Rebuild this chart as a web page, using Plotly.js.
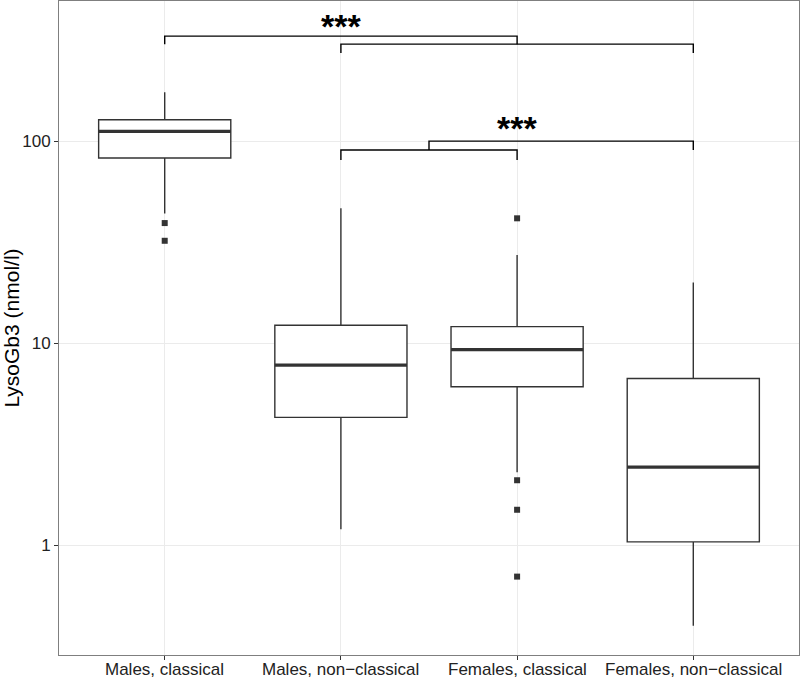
<!DOCTYPE html>
<html>
<head>
<meta charset="utf-8">
<script src="https://cdn.plot.ly/plotly-3.0.1.min.js"></script>
<style>
  html, body { margin: 0; padding: 0; background: #fff; }
  #chart { width: 800px; height: 680px; }
</style>
</head>
<body>
<div id="chart"></div>
<script>
// groups on the x axis
var groups = ["Males, classical", "Males, non\u2212classical", "Females, classical", "Females, non\u2212classical"];
var groupPos = [0, 1, 2, 3];

// box statistics, LysoGb3 in nmol/l
var lowerWhisker = [44, 1.2, 2.3, 0.4];
var q1 = [82.7, 4.3, 6.1, 1.04];
var median = [112, 7.8, 9.3, 2.44];
var q3 = [128, 12.3, 12.1, 6.7];
var upperWhisker = [175, 46.6, 27.4, 20.0];

// outlying points
var outlierGroup = [0, 0, 2, 2, 2, 2];
var outlierValue = [39.4, 32.2, 41.6, 2.1, 1.5, 0.7];

// significance brackets: from / to (group position), bar level, end tips level
var bracketFrom = [1, 0, 1, 1.5];
var bracketTo = [3, 2, 2, 3];
var bracketTop = [303, 332, 90.6, 100.3];
var bracketEnd = [274, 303, 80.8, 90.6];

// significance labels
var starLabel = ["***", "***"];
var starPos = [1, 2];
var starValue = [372, 116];

var boxW = 0.75;
var ink = "#333333";
var fontFam = "Liberation Sans, Arial, sans-serif";

var traces = [];

traces.push({
    type: "box",
    x: groupPos,
    q1: q1,
    median: median,
    q3: q3,
    lowerfence: lowerWhisker,
    upperfence: upperWhisker,
    width: boxW,
    whiskerwidth: 0,
    boxpoints: false,
    fillcolor: "#ffffff",
    line: {color: ink, width: 1.4},
    hoverinfo: "skip",
    showlegend: false
});

// thicker median bar, like ggplot
var mx = [], my = [];
for (var i = 0; i < groupPos.length; i++) {
    mx.push(groupPos[i] - boxW / 2, groupPos[i] + boxW / 2, null);
    my.push(median[i], median[i], null);
}
traces.push({
    type: "scatter", mode: "lines",
    x: mx, y: my,
    line: {color: ink, width: 3.2},
    hoverinfo: "skip", showlegend: false
});

traces.push({
    type: "scatter", mode: "markers",
    x: outlierGroup.map(function (g) { return groupPos[g]; }),
    y: outlierValue,
    marker: {symbol: "square", size: 6, color: ink},
    hoverinfo: "y", showlegend: false
});

// brackets
var bx = [], by = [];
for (var j = 0; j < bracketFrom.length; j++) {
    bx.push(bracketFrom[j], bracketFrom[j], bracketTo[j], bracketTo[j], null);
    by.push(bracketEnd[j], bracketTop[j], bracketTop[j], bracketEnd[j], null);
}
traces.push({
    type: "scatter", mode: "lines",
    x: bx, y: by,
    line: {color: "#000000", width: 1.4},
    hoverinfo: "skip", showlegend: false
});

var annotations = starLabel.map(function (t, k) {
    return {
        x: starPos[k], y: Math.log10(starValue[k]),
        xref: "x", yref: "y",
        text: "<b>" + t + "</b>", showarrow: false,
        xanchor: "center", yanchor: "middle",
        font: {family: fontFam, size: 34, color: "#000"}
    };
});

// category labels under the axis, kept tight to the bottom edge
groups.forEach(function (g, k) {
    annotations.push({
        x: groupPos[k], y: 0,
        xref: "x", yref: "paper",
        text: g, showarrow: false,
        xanchor: "center", yanchor: "top",
        yshift: -3,
        font: {family: fontFam, size: 17, color: "#222"}
    });
});

var layout = {
    width: 800,
    height: 680,
    margin: {l: 59, r: 1, t: 1, b: 25},
    paper_bgcolor: "#ffffff",
    plot_bgcolor: "#ffffff",
    font: {family: fontFam, size: 17, color: ink},
    xaxis: {
        range: [-0.6, 3.6],
        tickvals: groupPos,
        showticklabels: false,
        showgrid: true,
        gridcolor: "#ebebeb",
        gridwidth: 1,
        zeroline: false,
        ticks: "outside",
        ticklen: 4,
        tickcolor: ink,
        showline: true,
        linecolor: "#7f7f7f",
        linewidth: 1,
        mirror: true
    },
    yaxis: {
        type: "log",
        range: [-0.543, 2.695],
        tickvals: [1, 10, 100],
        ticktext: ["1", "10", "100"],
        showgrid: true,
        gridcolor: "#ebebeb",
        gridwidth: 1,
        zeroline: false,
        ticks: "outside",
        ticklen: 4,
        tickcolor: ink,
        tickfont: {size: 17, color: "#222"},
        showline: true,
        linecolor: "#7f7f7f",
        linewidth: 1,
        mirror: true,
        title: {text: "LysoGb3 (nmol/l)", font: {size: 21, color: "#000"}, standoff: 3}
    },
    annotations: annotations,
    showlegend: false
};

Plotly.newPlot("chart", traces, layout, {displayModeBar: false, staticPlot: true});
</script>
</body>
</html>
